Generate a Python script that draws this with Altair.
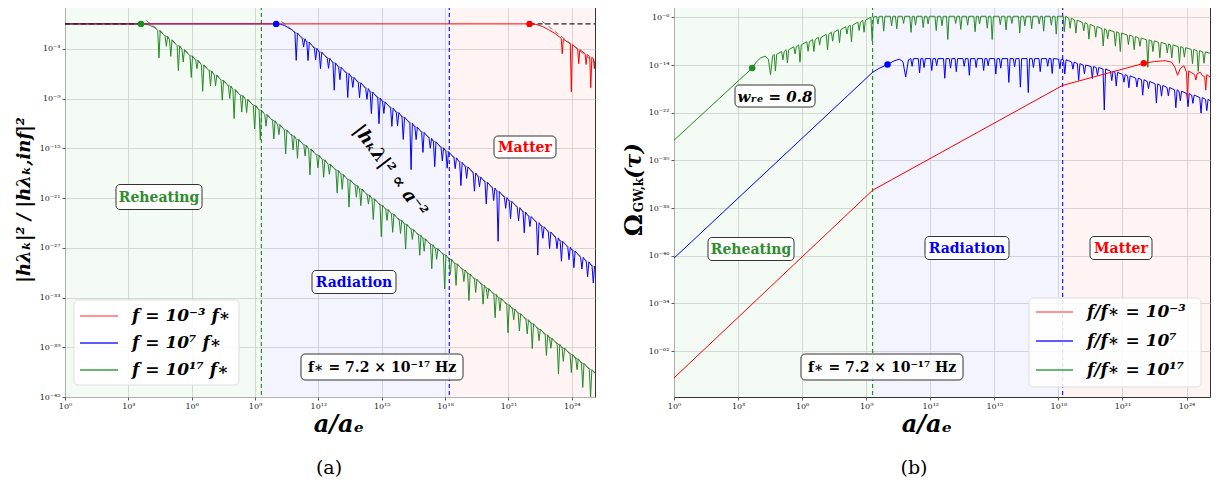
import altair as alt
import pandas as pd

SERIF = "DejaVu Serif"

# ---------------- axes / layout values ----------------
x_ticks = [0, 3, 6, 9, 12, 15, 18, 21, 24]
y_ticks_a = [-45, -39, -33, -27, -21, -15, -9, -3, 3]
y_ticks_b = [-62, -54, -46, -38, -30, -22, -14, -6]
x_domain = [0, 25.1]
y_domain_a = [-45, 3]
y_domain_b = [-69.7, -2.9]

# ---------------- eras ----------------
era_names = ["Reheating", "Radiation", "Matter"]
era_start = [0, 9.3, 18.2]
era_end = [9.3, 18.2, 25.1]
era_fill = ["#008000", "#0000ff", "#ff0000"]
era_text_colors = ["#2e8b2e", "#0000ff", "#ff0000"]
transition_x = [9.3, 18.2]
transition_colors = ["#1f9a1f", "#1a1aff"]

# ---------------- texts ----------------
series_colors = {"red": "#ff0000", "blue": "#0000ff", "green": "#228b22"}
legend_colors = ["#ff6f6f", "#2424ff", "#3c9f3c"]
legend_a = ["f = 10⁻³ f∗", "f = 10⁷ f∗", "f = 10¹⁷ f∗"]
legend_b = ["f/f∗ = 10⁻³", "f/f∗ = 10⁷", "f/f∗ = 10¹⁷"]
fstar_text = "f∗ = 7.2 × 10⁻¹⁷ Hz"
wre_text = "wᵣₑ = 0.8"
slope_text = "|hₖλ|² ∝ a⁻²"
ytitle_a = "|hλₖ|² / |hλₖ,inf|²"
ytitle_b_parts = ["Ω", "GW,k", "(τ)"]
xtitle = "a/aₑ"
panel_tags = ["(a)", "(b)"]

# ================= panel (a): log10 |h|^2/|h_inf|^2 vs log10 a =================
# green, f = 1e17 f*
gA_base_x = [0, 3.6, 3.8, 4.0, 4.2, 4.33, 25.1]
gA_base_y = [0, 0, -0.03, -0.15, -0.4, -0.6, -42.1]
gA_sx = [4.45, 4.80, 5.01, 5.37, 5.60, 5.98, 6.25, 6.52, 6.89, 7.13,
         7.45, 7.80, 8.01, 8.37, 8.60, 8.98, 9.25, 9.52, 9.89, 10.13,
         10.45, 10.80, 11.01, 11.37, 11.60, 11.98, 12.25, 12.52, 12.89, 13.13,
         13.45, 13.80, 14.01, 14.37, 14.60, 14.98, 15.25, 15.52, 15.89, 16.13,
         16.45, 16.80, 17.01, 17.37, 17.60, 17.98, 18.25, 18.52, 18.89, 19.13,
         19.45, 19.80, 20.01, 20.37, 20.60, 20.98, 21.25, 21.52, 21.89, 22.13,
         22.45, 22.80, 23.01, 23.37, 23.60, 23.98, 24.25, 24.52, 24.89]
gA_top = [-0.8, -1.5, -1.92, -2.64, -3.1, -3.86, -4.4, -4.94, -5.68, -6.16,
          -6.8, -7.5, -7.92, -8.64, -9.1, -9.86, -10.4, -10.94, -11.68, -12.16,
          -12.8, -13.5, -13.92, -14.64, -15.1, -15.86, -16.4, -16.94, -17.68, -18.16,
          -18.8, -19.5, -19.92, -20.64, -21.1, -21.86, -22.4, -22.94, -23.68, -24.16,
          -24.8, -25.5, -25.92, -26.64, -27.1, -27.86, -28.4, -28.94, -29.68, -30.16,
          -30.8, -31.5, -31.92, -32.64, -33.1, -33.86, -34.4, -34.94, -35.68, -36.16,
          -36.8, -37.5, -37.92, -38.64, -39.1, -39.86, -40.4, -40.94, -41.68]
gA_dip = [-4.1, -2.7, -3.92, -5.64, -4.6, -6.46, -5.4, -8.14, -7.48, -7.46,
          -9.2, -9.0, -11.42, -10.64, -10.7, -12.66, -14.0, -12.34, -13.88, -13.36,
          -15.7, -15.2, -16.22, -15.94, -18.2, -17.36, -18.5, -18.14, -20.38, -19.96,
          -22.1, -20.9, -21.92, -21.74, -23.6, -25.66, -23.7, -25.14, -25.28, -27.16,
          -26.0, -27.9, -27.42, -29.54, -28.4, -31.96, -30.2, -31.54, -31.08, -33.36,
          -32.4, -33.8, -33.12, -35.44, -34.6, -37.26, -35.7, -37.04, -37.38, -39.16,
          -38.2, -40.0, -39.12, -42.24, -40.7, -42.06, -41.7, -43.84, -44.98]

# blue, f = 1e7 f*
bA_base_x = [0, 10.0, 10.2, 10.4, 10.6, 10.8, 25.1]
bA_base_y = [0, 0, -0.04, -0.2, -0.5, -0.8, -29.4]
bA_sx = [10.95, 11.30, 11.51, 11.87, 12.10, 12.48, 12.75, 13.02, 13.39, 13.63,
         13.95, 14.30, 14.51, 14.87, 15.10, 15.48, 15.75, 16.02, 16.39, 16.63,
         16.95, 17.30, 17.51, 17.87, 18.10, 18.48, 18.75, 19.02, 19.39, 19.63,
         19.95, 20.30, 20.51, 20.87, 21.10, 21.48, 21.75, 22.02, 22.39, 22.63,
         22.95, 23.30, 23.51, 23.87, 24.10, 24.48, 24.75, 25.02]
bA_top = [-1.1, -1.8, -2.22, -2.94, -3.4, -4.16, -4.7, -5.24, -5.98, -6.46,
          -7.1, -7.8, -8.22, -8.94, -9.4, -10.16, -10.7, -11.24, -11.98, -12.46,
          -13.1, -13.8, -14.22, -14.94, -15.4, -16.16, -16.7, -17.24, -17.98, -18.46,
          -19.1, -19.8, -20.22, -20.94, -21.4, -22.16, -22.7, -23.24, -23.98, -24.46,
          -25.1, -25.8, -26.22, -26.94, -27.4, -28.16, -28.7, -29.24]
bA_dip = [-4.4, -2.8, -4.42, -4.34, -5.4, -5.36, -8.0, -6.74, -8.88, -7.66,
          -8.9, -9.1, -10.82, -12.04, -10.8, -12.36, -12.3, -13.94, -17.58, -13.96,
          -15.5, -15.0, -17.22, -16.54, -17.4, -17.46, -19.5, -18.64, -20.18, -19.66,
          -21.7, -21.3, -26.22, -22.24, -23.5, -23.76, -25.2, -24.44, -27.88, -25.86,
          -27.1, -27.1, -28.62, -28.44, -29.4, -29.56, -30.5, -31.24]

# red, f = 1e-3 f*
rA_x = [0, 22.0, 22.3, 22.6, 22.9, 23.2, 23.5, 23.55, 23.6, 23.93, 23.98, 24.03,
        24.28, 24.33, 24.38, 24.63, 24.68, 24.73, 24.85, 24.9, 24.95, 25.03, 25.07, 25.1]
rA_y = [0, 0, -0.06, -0.3, -0.7, -1.15, -1.75, -3.6, -1.85, -2.4, -8.2, -2.5,
        -3.0, -4.8, -3.1, -3.6, -4.9, -3.7, -3.95, -7.7, -4.05, -4.2, -5.4, -4.4]

# dashed guides
asymA_x0 = [3.85, 10.25, 22.6]
asymA_y0 = [0.4, 0.3, 0.3]
asymA_x1 = [25.1, 25.1, 25.1]
asymA_y1 = [-42.1, -29.4, -4.7]
flatA_x0 = [0, 22.0]
flatA_x1 = [3.6, 25.1]
flatA_y = [0, 0]
dotA_x = [3.6, 10.0, 22.0]
dotA_y = [0, 0, 0]

# ================= panel (b): log10 Omega_GW vs log10 a =================
gB_base_x = [0, 3.66, 3.85, 4.05, 4.27, 4.42, 4.52, 4.62, 25.1]
gB_base_y = [-26.6, -14.5, -13.5, -12.8, -12.5, -13.0, -15.6, -12.45, -12.0]
gB_sx = [4.75, 5.10, 5.31, 5.67, 5.90, 6.28, 6.55, 6.82, 7.19, 7.43,
         7.75, 8.10, 8.31, 8.67, 8.90, 9.28, 9.55, 9.82, 10.19, 10.43,
         10.75, 11.10, 11.31, 11.67, 11.90, 12.28, 12.55, 12.82, 13.19, 13.43,
         13.75, 14.10, 14.31, 14.67, 14.90, 15.28, 15.55, 15.82, 16.19, 16.43,
         16.75, 17.10, 17.31, 17.67, 17.90, 18.28, 18.55, 18.82, 19.19, 19.43,
         19.75, 20.10, 20.31, 20.67, 20.90, 21.28, 21.55, 21.82, 22.19, 22.43,
         22.75, 23.10, 23.31, 23.67, 23.90, 24.28, 24.55, 24.82]
gB_top = [-12.19, -11.71, -11.42, -10.92, -10.61, -10.08, -9.71, -9.34, -8.83, -8.49,
          -8.05, -7.57, -7.28, -6.78, -6.47, -5.94, -5.8, -5.8, -5.8, -5.8,
          -5.8, -5.8, -5.8, -5.8, -5.8, -5.8, -5.8, -5.8, -5.8, -5.8,
          -5.8, -5.8, -5.8, -5.8, -5.8, -5.8, -5.8, -5.8, -5.8, -5.8,
          -5.8, -5.8, -5.8, -5.8, -5.8, -5.79, -6.11, -6.43, -6.86, -7.14,
          -7.51, -7.89, -8.08, -8.4, -8.61, -8.95, -9.2, -9.44, -9.75, -9.93,
          -10.18, -10.45, -10.61, -10.89, -11.07, -11.36, -11.57, -11.78]
gB_dip = [-14.99, -13.11, -13.62, -12.12, -13.51, -11.68, -11.71, -10.64, -11.43, -9.99,
          -10.25, -8.77, -10.08, -8.18, -8.47, -9.94, -7.1, -8.3, -7.4, -7.9,
          -7.0, -8.5, -7.3, -7.7, -7.1, -8.2, -7.4, -9.7, -7.0, -8.0,
          -7.3, -8.4, -7.1, -7.8, -9.7, -7.2, -8.1, -7.0, -8.6, -7.4,
          -7.9, -7.1, -8.3, -7.3, -8.8, -8.39, -7.81, -8.63, -8.26, -9.64,
          -9.31, -10.79, -9.58, -10.8, -11.71, -10.55, -11.4, -10.84, -14.35, -11.73,
          -12.78, -11.95, -12.81, -13.69, -12.67, -13.76, -15.07, -13.68]

bB_base_x = [0, 9.3, 9.6, 10.0, 10.3, 10.55, 10.72, 10.85, 10.98, 25.1]
bB_base_y = [-46.4, -15.2, -14.55, -13.9, -13.3, -13.0, -13.4, -16.0, -13.1, -19.95]
bB_sx = [11.15, 11.50, 11.71, 12.07, 12.30, 12.68, 12.95, 13.22, 13.59, 13.83,
         14.15, 14.50, 14.71, 15.07, 15.30, 15.68, 15.95, 16.22, 16.59, 16.83,
         17.15, 17.50, 17.71, 18.07, 18.30, 18.68, 18.95, 19.22, 19.59, 19.83,
         20.15, 20.50, 20.71, 21.07, 21.30, 21.68, 21.95, 22.22, 22.59, 22.83,
         23.15, 23.50, 23.71, 24.07, 24.30, 24.68, 24.95]
bB_top = [-12.9, -12.9, -12.9, -12.9, -12.9, -12.9, -12.9, -12.9, -12.9, -12.9,
          -12.9, -12.9, -12.9, -12.9, -12.9, -12.9, -12.9, -12.9, -12.9, -12.9,
          -12.9, -12.9, -12.9, -13.0, -13.1, -13.48, -13.75, -13.98, -14.24, -14.41,
          -14.65, -15.0, -15.21, -15.57, -15.8, -16.18, -16.45, -16.74, -17.15, -17.41,
          -17.76, -18.15, -18.38, -18.77, -19.02, -19.44, -19.74]
bB_dip = [-14.2, -15.3, -14.4, -14.9, -14.1, -16.2, -14.5, -15.1, -14.2, -15.7,
          -14.4, -14.9, -14.1, -15.5, -14.5, -16.9, -14.3, -17.7, -18.6, -14.4,
          -15.1, -14.2, -15.4, -14.6, -15.5, -14.68, -16.55, -15.48, -16.24, -15.71,
          -21.55, -16.6, -17.51, -16.87, -17.8, -17.68, -19.05, -17.94, -20.35, -19.21,
          -19.16, -21.15, -19.98, -20.97, -20.42, -22.04, -21.64]

rB_x = [0, 9.3, 18.2, 22.0, 22.5, 23.0, 23.3, 23.45, 23.58, 23.72, 23.88, 24.0,
        24.05, 24.1, 24.25, 24.38, 24.44, 24.5, 24.65, 24.75, 24.85, 24.9, 24.95, 25.1]
rB_y = [-66.5, -35.0, -17.4, -13.7, -13.4, -13.25, -13.5, -14.3, -15.7, -14.5, -14.1, -15.2,
        -19.6, -15.0, -15.3, -15.6, -16.5, -15.4, -15.2, -15.8, -15.9, -18.2, -15.6, -16.0]

dotB_x = [3.66, 10.0, 22.0]
dotB_y = [-14.5, -13.9, -13.7]

# ---------------- helpers ----------------
WA, WB, H = 530, 536, 398
SPIKE_HALF = 0.06

SUP = str.maketrans("0123456789-", "⁰¹²³⁴⁵⁶⁷⁸⁹⁻")


def pow_label(e):
    return "10" + str(e).translate(SUP)


def label_expr(vals):
    expr = "''"
    for v in reversed(vals):
        expr = f"datum.value == {v} ? '{pow_label(v)}' : ({expr})"
    return expr


def spiky(base_x, base_y, sx=(), stop=(), sdip=()):
    assert len(sx) == len(stop) == len(sdip), (len(sx), len(stop), len(sdip))
    xs, ys = list(base_x), list(base_y)
    for x, t, d in zip(sx, stop, sdip):
        xs += [x - SPIKE_HALF, x, x + SPIKE_HALF]
        ys += [t, d, t]
    df = pd.DataFrame({"x": xs, "y": ys}).sort_values("x", kind="stable").reset_index(drop=True)
    df["i"] = range(len(df))
    return df


def make_axes(y_ticks):
    common = dict(grid=True, gridColor="#d3d3d3", gridWidth=0.8, domain=False,
                  tickSize=3, tickColor="#333", tickWidth=0.8,
                  labelFont=SERIF, labelFontSize=8, labelColor="#222", labelPadding=2,
                  title=None)
    xa = alt.Axis(values=x_ticks, labelExpr=label_expr(x_ticks), labelFlush=False, **common)
    ya = alt.Axis(values=y_ticks, labelExpr=label_expr(y_ticks), labelFlush=False, **common)
    return xa, ya


def boxed(text, color, cx, cy, w, h, size=14, style="normal"):
    d = pd.DataFrame({"t": [text]})
    rect = alt.Chart(d).mark_rect(fill="white", fillOpacity=0.85, stroke="#333",
                                  strokeWidth=1, cornerRadius=4).encode(
        x=alt.value(cx - w / 2), x2=alt.value(cx + w / 2),
        y=alt.value(cy - h / 2), y2=alt.value(cy + h / 2))
    txt = alt.Chart(d).mark_text(font=SERIF, fontSize=size, fontWeight="bold", fontStyle=style,
                                 color=color, align="center", baseline="middle").encode(
        x=alt.value(cx), y=alt.value(cy + 1), text="t:N")
    return [rect, txt]


def free_text(text, x, y, size, angle=0, weight="bold", style="normal", color="black"):
    d = pd.DataFrame({"t": [text]})
    return alt.Chart(d).mark_text(font=SERIF, fontSize=size, fontWeight=weight, fontStyle=style,
                                  color=color, angle=angle, align="center",
                                  baseline="middle").encode(
        x=alt.value(x), y=alt.value(y), text="t:N")


def legend(labels, x0, y0, x1, y1, line_x0, line_x1, ys, text_x, size):
    out = []
    d = pd.DataFrame({"t": [""]})
    out.append(alt.Chart(d).mark_rect(fill="white", fillOpacity=0.85, stroke="#dddddd",
                                      strokeWidth=1, cornerRadius=4).encode(
        x=alt.value(x0), x2=alt.value(x1), y=alt.value(y0), y2=alt.value(y1)))
    for lab, col, yy in zip(labels, legend_colors, ys):
        dd = pd.DataFrame({"t": [lab]})
        out.append(alt.Chart(dd).mark_rule(color=col, strokeWidth=1.5).encode(
            x=alt.value(line_x0), x2=alt.value(line_x1), y=alt.value(yy)))
        out.append(alt.Chart(dd).mark_text(font=SERIF, fontSize=size, fontWeight="bold",
                                           fontStyle="italic", align="left",
                                           baseline="middle", color="black").encode(
            x=alt.value(text_x), y=alt.value(yy), text="t:N"))
    return out


def panel(y_domain, y_ticks, curves, dots_x, dots_y, extra_rules):
    xa, ya = make_axes(y_ticks)
    xs = alt.Scale(domain=x_domain, nice=False, zero=False)
    ys = alt.Scale(domain=y_domain, nice=False, zero=False)
    X = lambda f: alt.X(f, scale=xs, axis=xa)
    Y = lambda f: alt.Y(f, scale=ys, axis=ya)

    eras = pd.DataFrame({"name": era_names, "start": era_start, "end": era_end, "c": era_fill})
    layers = [alt.Chart(eras).mark_rect(opacity=0.045).encode(
        x=X("start:Q"), x2="end:Q", y=alt.value(0), y2=alt.value(H),
        color=alt.Color("c:N", scale=None))]
    for tx, tc in zip(transition_x, transition_colors):
        tr = pd.DataFrame({"x": [tx]})
        layers.append(alt.Chart(tr).mark_rule(strokeDash=[4, 3], strokeWidth=1.2, color=tc).encode(
            x=X("x:Q"), y=alt.value(0), y2=alt.value(H)))
    for df, col in curves:
        layers.append(alt.Chart(df).mark_line(color=col, strokeWidth=1.0, clip=True).encode(
            x=X("x:Q"), y=Y("y:Q"), order="i:Q"))
    layers += extra_rules(X, Y)
    dots = pd.DataFrame({"x": dots_x, "y": dots_y,
                         "c": [series_colors["green"], series_colors["blue"], series_colors["red"]]})
    layers.append(alt.Chart(dots).mark_circle(size=42, opacity=1).encode(
        x=X("x:Q"), y=Y("y:Q"), color=alt.Color("c:N", scale=None)))
    return layers


# ---------------- panel (a) ----------------
curves_a = [
    (spiky(gA_base_x, gA_base_y, gA_sx, gA_top, gA_dip), series_colors["green"]),
    (spiky(bA_base_x, bA_base_y, bA_sx, bA_top, bA_dip), series_colors["blue"]),
    (spiky(rA_x, rA_y), series_colors["red"]),
]


def rules_a(X, Y):
    asym = pd.DataFrame({"x0": asymA_x0, "y0": asymA_y0, "x1": asymA_x1, "y1": asymA_y1})
    flat = pd.DataFrame({"x0": flatA_x0, "x1": flatA_x1, "y": flatA_y})
    return [
        alt.Chart(asym).mark_rule(strokeDash=[5, 3], color="#555", strokeWidth=1, opacity=0.8).encode(
            x=X("x0:Q"), y=Y("y0:Q"), x2="x1:Q", y2="y1:Q"),
        alt.Chart(flat).mark_rule(strokeDash=[5, 3], color="#222", strokeWidth=1.2).encode(
            x=X("x0:Q"), x2="x1:Q", y=Y("y:Q")),
    ]


layers_a = panel(y_domain_a, y_ticks_a, curves_a, dotA_x, dotA_y, rules_a)
layers_a += boxed(era_names[0], era_text_colors[0], 94, 198, 86, 25, 14)
layers_a += boxed(era_names[1], era_text_colors[1], 289, 283, 84, 23, 14)
layers_a += boxed(era_names[2], era_text_colors[2], 460, 148, 62, 22, 14)
layers_a += boxed(fstar_text, "black", 317, 368, 162, 26, 14)
layers_a.append(free_text(slope_text, 325, 172, 18, angle=53, style="italic"))
layers_a += legend(legend_a, 9, 301, 174, 386, 15, 53, [317, 344, 371], 67, 17)
layers_a.append(free_text(ytitle_a, -40, 201, 18, angle=270, style="italic"))
layers_a.append(free_text(xtitle, 274, 426, 24, style="italic"))
layers_a.append(free_text(panel_tags[0], 264, 469, 19, weight="normal"))

# ---------------- panel (b) ----------------
curves_b = [
    (spiky(gB_base_x, gB_base_y, gB_sx, gB_top, gB_dip), series_colors["green"]),
    (spiky(bB_base_x, bB_base_y, bB_sx, bB_top, bB_dip), series_colors["blue"]),
    (spiky(rB_x, rB_y), series_colors["red"]),
]

layers_b = panel(y_domain_b, y_ticks_b, curves_b, dotB_x, dotB_y, lambda X, Y: [])
layers_b += boxed(wre_text, "black", 101, 97, 80, 22, 15, style="italic")
layers_b += boxed(era_names[0], era_text_colors[0], 77, 250, 86, 23, 14)
layers_b += boxed(era_names[1], era_text_colors[1], 293, 249, 84, 23, 14)
layers_b += boxed(era_names[2], era_text_colors[2], 447, 249, 62, 23, 14)
layers_b += boxed(fstar_text, "black", 208, 368, 162, 26, 14)
layers_b += legend(legend_b, 355, 299, 527, 388, 362, 399, [313, 342, 371], 413, 17)
layers_b.append(free_text(ytitle_b_parts[0], -40, 226, 25, angle=270))
layers_b.append(free_text(ytitle_b_parts[1], -35, 196, 12, angle=270))
layers_b.append(free_text(ytitle_b_parts[2], -40, 162, 22, angle=270, style="italic"))
layers_b.append(free_text(xtitle, 253, 426, 24, style="italic"))
layers_b.append(free_text(panel_tags[1], 240, 469, 19, weight="normal"))

left = alt.layer(*layers_a).properties(width=WA, height=H)
right = alt.layer(*layers_b).properties(width=WB, height=H)

chart = (
    alt.hconcat(left, right, spacing=24)
    .properties(padding={"left": 7, "top": -14, "right": 0, "bottom": 0}, background="white")
    .configure_view(stroke="#333", strokeWidth=1)
)

chart.save("out.html", embed_options={"renderer": "svg", "actions": False})
